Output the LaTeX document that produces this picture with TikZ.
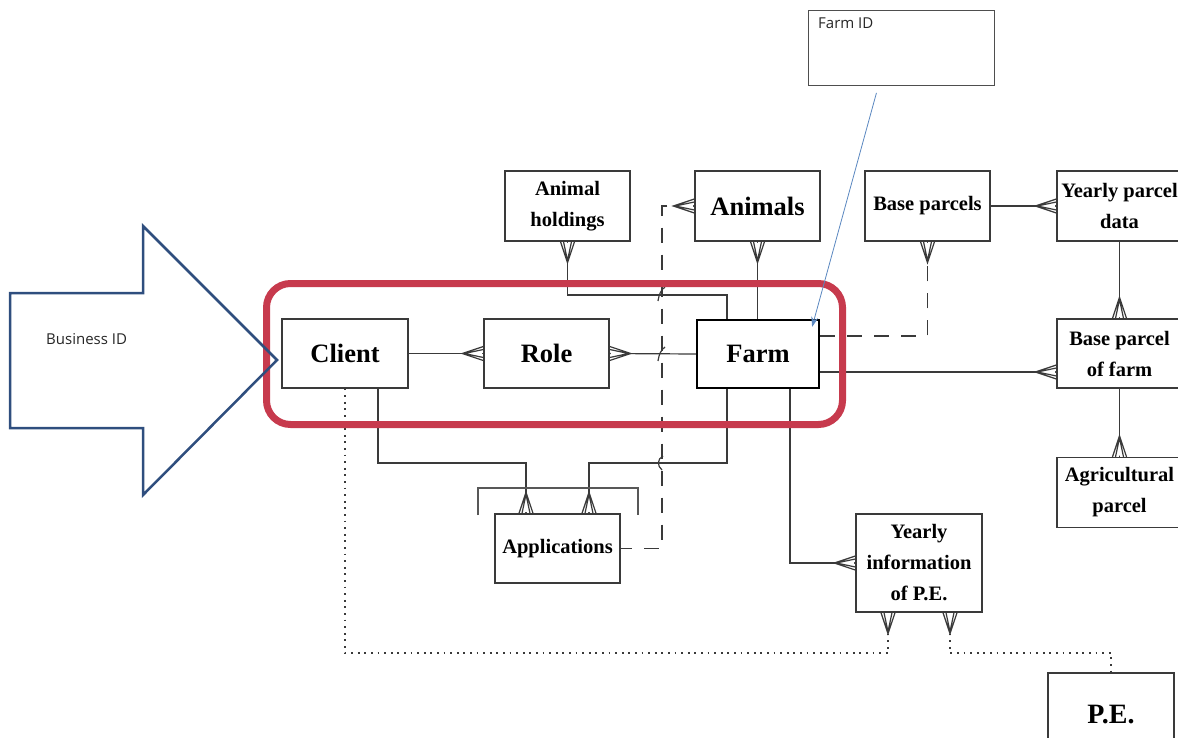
\documentclass[tikz,border=0pt]{standalone}
\usepackage{fontspec}
\newfontfamily\uisans{Open Sans}
\newfontfamily\entfont{Liberation Serif}
\usetikzlibrary{calc,arrows.meta}
\definecolor{navy}{HTML}{2F4E7E}
\definecolor{hlred}{HTML}{C73A4D}
\definecolor{pointer}{HTML}{5A87C0}
\definecolor{ink}{HTML}{3A3A3A}
\tikzset{
  ent/.style={draw=ink, line width=1.3pt, fill=white, align=center, inner sep=0pt,
    minimum width=125, minimum height=69, font=\entfont\bfseries\fontsize{20.5}{31}\selectfont, text=black},
  big/.style={font=\entfont\bfseries\fontsize{26.5}{30}\selectfont},
  conn/.style={draw=ink, line width=1.2pt},
  dconn/.style={conn, dash pattern=on 15pt off 12pt},
  oconn/.style={conn, line width=2pt, dash pattern=on 1.8pt off 4.8pt},
  sanslabel/.style={font=\uisans\fontsize{15}{18}\selectfont, text=black!85, inner sep=0pt},
}
% #1 point on the box edge, #2 unit vector from apex toward the box, #3 perpendicular unit vector
\newcommand\crowsfoot[3]{%
  \fill[white] ($(#1)-20*(#2)$) -- ($(#1)-1.2*(#2)+6*(#3)$) -- ($(#1)-1.2*(#2)-6*(#3)$) -- cycle;
  \draw[conn, line join=miter] ($(#1)+7*(#3)$) -- ($(#1)-21*(#2)$) -- ($(#1)-7*(#3)$)
              ($(#1)+4*(#3)$) -- ($(#1)-19*(#2)$) -- ($(#1)-4*(#3)$);}
\begin{document}
\begin{tikzpicture}[x=1pt,y=-1pt]
\useasboundingbox (0,0) rectangle (1178,738);
\clip (0,0) rectangle (1178,738);

% entities
\node[ent, big, minimum width=126] (client) at (345,353.5) {Client};
\node[ent, big] (role) at (546.5,353.5) {Role};
\node[ent, big, draw=black, line width=2.2pt, minimum width=122, minimum height=68] (farm) at (758,354) {Farm};
\node[ent, minimum height=70] (aholdings) at (567.5,206) {Animal\\holdings};
\node[ent, big, minimum height=70] (animals) at (757.5,206) {Animals};
\node[ent, minimum height=70] (baseparcels) at (927.5,206) {Base parcels};
\node[ent, minimum height=70] (yearlyparcel) at (1119.5,206) {Yearly parcel\\data};
\node[ent] (bpfarm) at (1119.5,353.5) {Base parcel\\of farm};
\node[ent, minimum height=70] (agri) at (1119.5,492.5) {Agricultural\\parcel};
\node[ent] (apps) at (557.5,548.5) {Applications};
\node[ent, minimum width=126, minimum height=98] (yinfo) at (919,563) {Yearly\\information\\of P.E.};
\node[ent, big, font=\entfont\bfseries\fontsize{28}{30}\selectfont, minimum width=126, minimum height=86] (pe) at (1111,716) {\raisebox{4pt}{P.E.}};

% helper coordinates
\coordinate (dotrow) at (0,653);
\coordinate (hrow) at (0,463);
\coordinate (arow) at (0,295);
\coordinate (dashx) at (662,0);
\coordinate (fe1) at ($(farm.east)+(0,-18)$);
\coordinate (fe2) at ($(farm.east)+(0,18)$);
\coordinate (bpw) at (fe2 -| bpfarm.west);
\coordinate (fs1) at ($(farm.south)+(-31,0)$);
\coordinate (fs2) at ($(farm.south)+(32,0)$);
\coordinate (fn1) at ($(farm.north)+(-31,0)$);
\coordinate (cs1) at ($(client.south)+(33,0)$);
\coordinate (apl) at ($(apps.north)+(-31.5,0)$);
\coordinate (apr) at ($(apps.north)+(31.5,0)$);
\coordinate (ya) at ($(yinfo.south)+(-31,0)$);
\coordinate (yb) at ($(yinfo.south)+(31,0)$);

% solid connectors
\draw[conn] (client.east) -- (role.west);
\crowsfoot{role.west}{1,0}{0,1}
\draw[conn] (role.east) -- (farm.west);
\crowsfoot{role.east}{-1,0}{0,1}
\draw[conn] (cs1) |- (hrow -| apl) -- (apl);
\crowsfoot{apl}{0,1}{1,0}
\draw[conn] (fs1) |- (hrow -| apr) -- (apr);
\crowsfoot{apr}{0,1}{1,0}
\draw[conn] (aholdings.south) -- (arow -| aholdings.south) -| (fn1);
\crowsfoot{aholdings.south}{0,-1}{1,0}
\draw[conn] (animals.south) -- (animals.south |- farm.north);
\crowsfoot{animals.south}{0,-1}{1,0}
\draw[conn] (baseparcels.east) -- (yearlyparcel.west);
\crowsfoot{yearlyparcel.west}{1,0}{0,1}
\draw[conn] (yearlyparcel.south) -- (bpfarm.north);
\crowsfoot{bpfarm.north}{0,1}{1,0}
\draw[conn] (fe2) -- (bpw);
\crowsfoot{bpw}{1,0}{0,1}
\draw[conn] (bpfarm.south) -- (agri.north);
\crowsfoot{agri.north}{0,1}{1,0}
\draw[conn] (fs2) |- (yinfo.west);
\crowsfoot{yinfo.west}{1,0}{0,1}

% exclusivity bracket over Applications
\draw[conn, draw=ink!85] (478,515) |- (638,488) -- (638,515);

% dashed connectors
\draw[dconn] (animals.west) -| (dashx |- apps.east) -- (apps.east);
\crowsfoot{animals.west}{1,0}{0,1}
\draw[dconn] (fe1) -| (baseparcels.south);
\crowsfoot{baseparcels.south}{0,-1}{1,0}
% small jumps where the dashed line crosses
\draw[conn] (658,301) .. controls (659,294) and (661,290) .. (665,287);
\draw[conn] (658,361) .. controls (659,354) and (661,350) .. (665,347);
\draw[conn] (663,456) .. controls (657,459) and (657,466) .. (662,470);

% dotted connectors
\draw[oconn] (client.south) |- (dotrow -| ya) -- ($(ya)+(0,21)$);
\crowsfoot{ya}{0,-1}{1,0}
\draw[oconn] ($(yb)+(0,21)$) -- (yb |- dotrow) -| (pe.north);
\crowsfoot{yb}{0,-1}{1,0}

% highlight
\draw[hlred, line width=7pt, rounded corners=24pt] (266.5,283.5) rectangle (842.5,424.5);

% Farm ID callout
\node[draw=ink!90, line width=0.9pt, minimum width=186, minimum height=75, anchor=north west, inner sep=0pt] (farmid) at (808,10) {};
\node[sanslabel, anchor=north west] (farmidtext) at ($(farmid.north west)+(10,8)$) {Farm ID};
\coordinate (ptail) at ($(farmid.south)+(-25,7)$);
\coordinate (ptip) at ($(farm.north east)+(-8,8)$);
\draw[pointer, line width=0.8pt, -{Stealth[length=10pt,width=7pt]}] (ptail) -- (ptip);

% Business ID arrow
\draw[navy, line width=2.5pt, line join=miter] (10,293) -- (143,293) -- (143,226) -- (277,360) -- (143,495) -- (143,428) -- (10,428) -- cycle;
\node[sanslabel, anchor=west] (bizid) at (46,339) {Business ID};
\end{tikzpicture}
\end{document}
